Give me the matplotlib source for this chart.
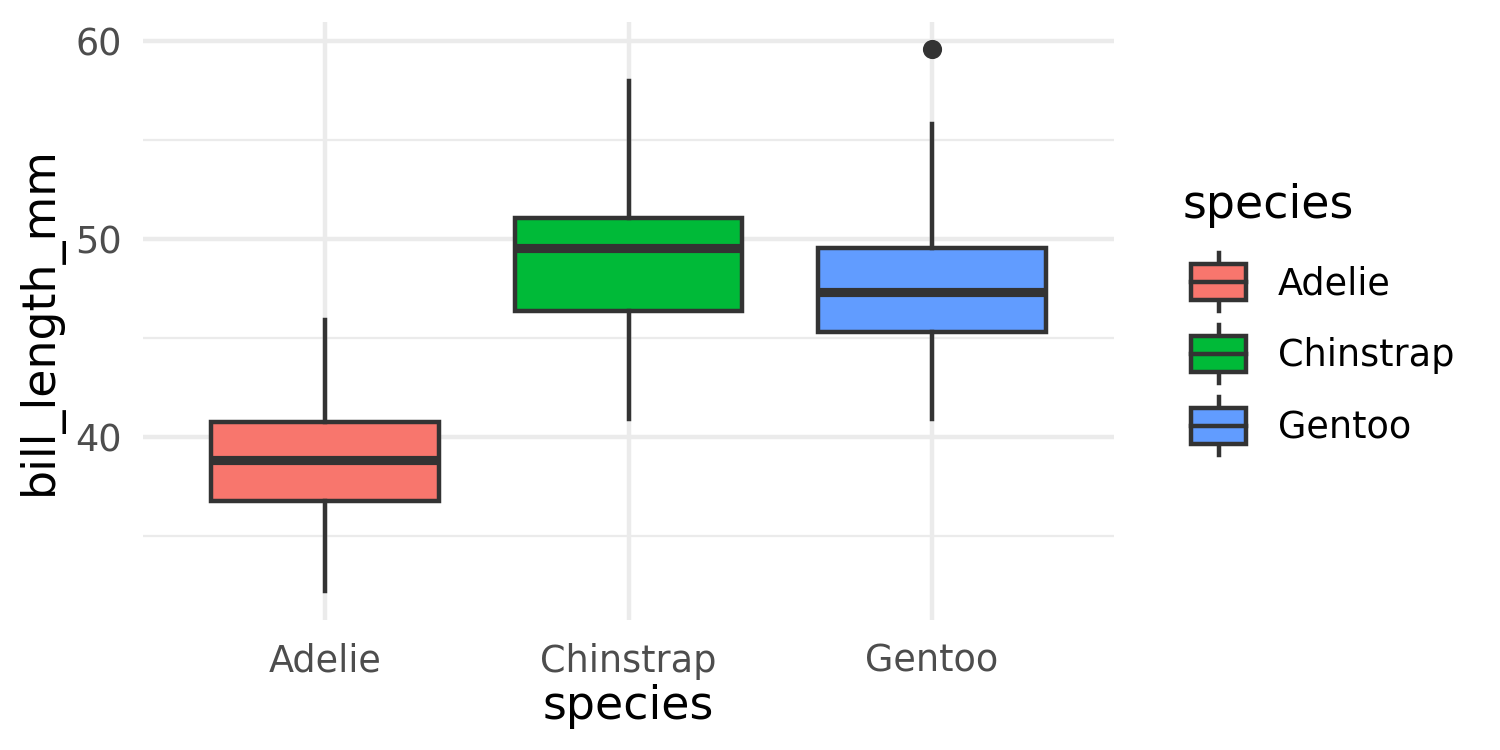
import matplotlib.pyplot as plt
from matplotlib.patches import Rectangle

species = ["Adelie", "Chinstrap", "Gentoo"]
colors = ["#F8766D", "#00BA38", "#619CFF"]
whis_lo = [32.2, 40.9, 40.9]
q1 = [36.75, 46.35, 45.3]
median = [38.8, 49.55, 47.3]
q3 = [40.75, 51.08, 49.55]
whis_hi = [45.9, 58.0, 55.8]
outliers = [[], [], [59.6]]

edge = "#333333"
plt.rcParams['font.family'] = ['DejaVu Sans']

fig = plt.figure(figsize=(5, 2.5), dpi=300)
ax = fig.add_axes([143 / 1500, 1 - 620 / 750, (1114 - 143) / 1500, (620 - 22) / 750])

stats = []
for i, name in enumerate(species):
  stats.append(dict(label=name, whislo=whis_lo[i], q1=q1[i], med=median[i],
                    q3=q3[i], whishi=whis_hi[i], fliers=outliers[i]))

bp = ax.bxp(stats, positions=range(len(species)), widths=0.75, patch_artist=True,
            showcaps=False,
            boxprops=dict(edgecolor=edge, linewidth=1.07),
            whiskerprops=dict(color=edge, linewidth=1.07),
            medianprops=dict(color=edge, linewidth=2.2, solid_capstyle='butt'),
            flierprops=dict(marker='o', markerfacecolor=edge, markeredgecolor=edge,
                            markersize=3.6))
for patch, c in zip(bp['boxes'], colors):
  patch.set_facecolor(c)
  patch.set_zorder(3)
for k in ('whiskers', 'medians', 'fliers'):
  for a in bp[k]:
    a.set_zorder(4)

ax.set_xlim(-0.6, 2.6)
ax.set_ylim(30.73, 60.98)
ax.set_yticks([40, 50, 60])
ax.set_yticks([35, 45, 55], minor=True)
ax.set_xticks(range(len(species)))
ax.set_xticklabels(species)
ax.grid(which='major', color='#EBEBEB', linewidth=1.07)
ax.grid(which='minor', axis='y', color='#EBEBEB', linewidth=0.53)
ax.set_axisbelow(True)
for s in ax.spines.values():
  s.set_visible(False)
ax.tick_params(which='both', length=0, labelsize=8.8, labelcolor='#4D4D4D')
ax.tick_params(axis='x', pad=5.5)
ax.tick_params(axis='y', pad=5.0)
ax.set_xlabel("species", fontsize=11, labelpad=1)
ax.set_ylabel("bill_length_mm", fontsize=11, labelpad=3)

# legend drawn by hand, ggplot style
lax = fig.add_axes([1170 / 1500, 1 - 470 / 750, 310 / 1500, 230 / 750])
lax.set_xlim(1170, 1480)
lax.set_ylim(470, 240)
lax.axis('off')
for i, (name, c) in enumerate(zip(species, colors)):
  cy = 282 + 72 * i
  lax.plot([1218.5, 1218.5], [cy - 29, cy - 19], color=edge, linewidth=1.07)
  lax.plot([1218.5, 1218.5], [cy + 19, cy + 29], color=edge, linewidth=1.07)
  lax.add_patch(Rectangle((1191, cy - 18), 55, 36, facecolor=c, edgecolor=edge, linewidth=1.07))
  lax.plot([1191, 1246], [cy, cy], color=edge, linewidth=1.07)
  lax.text(1278, cy + 2, name, fontsize=8.8, va='center', ha='left')
fig.text(1183 / 1500, 1 - 205 / 750, "species", fontsize=11, va='center', ha='left')

fig.savefig("out.png", dpi=300, facecolor='white')
